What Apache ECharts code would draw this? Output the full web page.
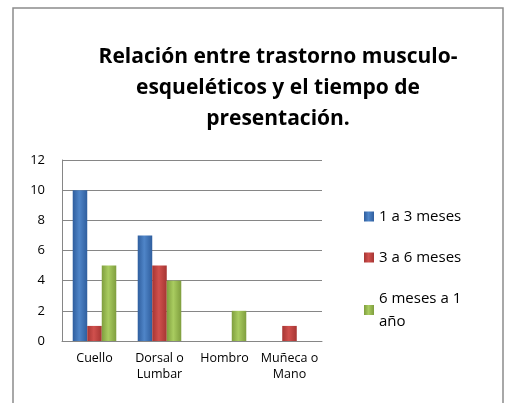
<!DOCTYPE html>
<html>
<head>
<meta charset="utf-8">
<script src="https://cdn.jsdelivr.net/npm/echarts@6/dist/echarts.min.js"></script>
<style>
  html, body { margin: 0; padding: 0; background: #fff; }
  #main { width: 505px; height: 403px; }
</style>
</head>
<body>
<div id="main"></div>
<script>
// datos
const categorias = ['Cuello', 'Dorsal o\nLumbar', 'Hombro', 'Muñeca o\nMano']
const meses1a3 = [10, 7, 0, 0]
const meses3a6 = [1, 5, 0, 1]
const meses6a12 = [5, 4, 2, 0]
const nombres = ['1 a 3 meses', '3 a 6 meses', '6 meses a 1 año']
const tituloTexto = 'Relación entre trastorno musculo-\nesqueléticos y el tiempo de\npresentación.'

const fuente = '"Open Sans", Lato, sans-serif'

// degradado horizontal para imitar el bisel de las barras
function bisel(borde, centro) {
    return new echarts.graphic.LinearGradient(0, 0, 1, 0, [
        { offset: 0, color: borde },
        { offset: 0.45, color: centro },
        { offset: 1, color: borde }
    ])
}

const chart = echarts.init(document.getElementById('main'))

const option = {
    animation: false,
    textStyle: { fontFamily: fuente },
    title: {
        text: tituloTexto,
        left: 273,
        textAlign: 'center',
        top: 37,
        textStyle: {
            fontFamily: fuente,
            fontSize: 21,
            fontWeight: 'bold',
            color: '#000',
            lineHeight: 31
        }
    },
    legend: {
        orient: 'vertical',
        left: 359,
        top: 200,
        itemWidth: 10,
        itemHeight: 10,
        itemGap: 18,
        icon: 'rect',
        data: nombres,
        formatter: n => n === '6 meses a 1 año' ? '6 meses a 1\naño' : n,
        textStyle: { fontFamily: fuente, fontSize: 15, color: '#000', lineHeight: 23 }
    },
    grid: { left: 62, right: 183, top: 160, bottom: 62 },
    xAxis: {
        type: 'category',
        data: categorias,
        axisLine: { lineStyle: { color: '#868686' } },
        axisTick: { show: false },
        axisLabel: { color: '#000', fontSize: 12.5, lineHeight: 16, margin: 9, interval: 0 }
    },
    yAxis: {
        type: 'value',
        min: 0,
        max: 12,
        interval: 2,
        axisLine: { show: true, lineStyle: { color: '#868686' } },
        axisTick: { show: false },
        axisLabel: { color: '#000', fontSize: 13, margin: 17 },
        splitLine: { lineStyle: { color: '#868686' } }
    },
    series: [
        {
            name: nombres[0], type: 'bar', data: meses1a3,
            barGap: '0%', barCategoryGap: '33%',
            itemStyle: { color: bisel('#2f5e9e', '#4f85c8') }
        },
        {
            name: nombres[1], type: 'bar', data: meses3a6,
            itemStyle: { color: bisel('#a63533', '#d0504d') }
        },
        {
            name: nombres[2], type: 'bar', data: meses6a12,
            itemStyle: { color: bisel('#7f9e3e', '#a9cc60') }
        }
    ],
    graphic: [
        {
            type: 'rect',
            shape: { x: 13, y: 8, width: 490, height: 420 },
            style: { fill: 'none', stroke: '#8c8c8c', lineWidth: 1.5 },
            silent: true
        }
    ]
}

chart.setOption(option)
</script>
</body>
</html>
